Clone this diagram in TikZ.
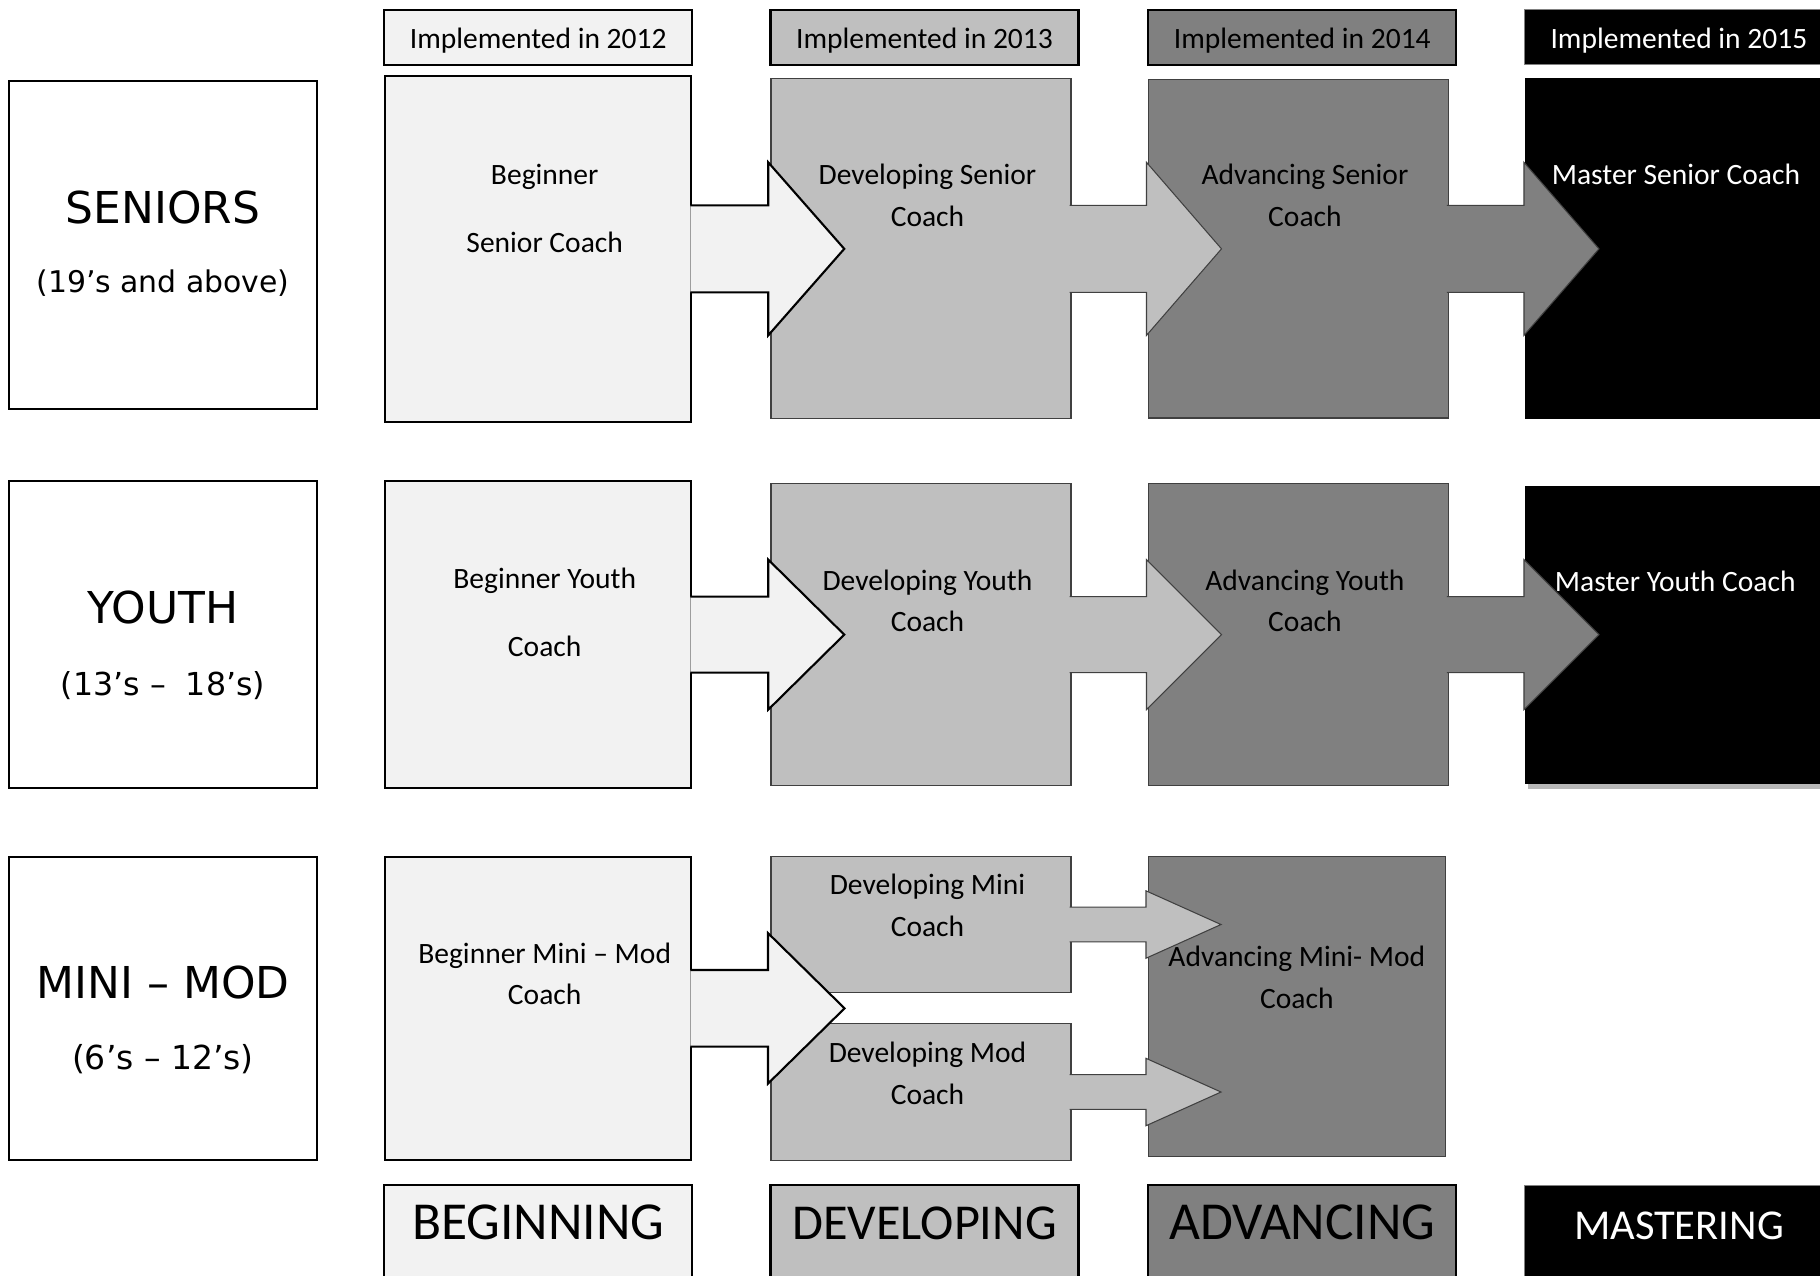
\documentclass[tikz,border=0pt]{standalone}
\usepackage{fontspec}
\setmainfont{Carlito}
\newfontfamily\grpfont{DejaVu Sans}
\usetikzlibrary{positioning,calc,shadows}
\definecolor{begfill}{HTML}{F2F2F2}
\definecolor{devfill}{HTML}{BFBFBF}
\definecolor{advfill}{HTML}{808080}

\begin{document}
\begin{tikzpicture}[
  grpbox/.style={draw, line width=0.6pt, fill=white, minimum width=3.08cm},
  begbox/.style={draw, line width=0.6pt, fill=begfill, minimum width=3.06cm},
  devbox/.style={draw=black!75, line width=0.3pt, fill=devfill, minimum width=3.0cm},
  advbox/.style={draw=black!75, line width=0.3pt, fill=advfill, minimum width=3.0cm},
  mstbox/.style={fill=black, minimum width=3.1cm},
  headbox/.style={draw, line width=0.6pt, minimum width=3.08cm, inner sep=0pt, text height=0.39cm, text depth=0.16cm, font=\fontsize{8.4}{11.87}\selectfont},
  footbox/.style={draw, line width=0.6pt, minimum width=3.08cm, inner sep=0pt, text height=0.54cm, text depth=0.63cm},
  lbl/.style={align=center, inner sep=0pt, xshift=0.065cm, font=\fontsize{8.4}{11.87}\selectfont},
  grpname/.style={inner sep=0pt, font=\grpfont\fontsize{12.5}{15}\selectfont},
  grpage/.style={inner sep=0pt, font=\grpfont\fontsize{8.6}{11}\selectfont},
  begarrow/.style={draw, line width=0.6pt, fill=begfill},
  devarrow/.style={draw=black!75, line width=0.3pt, fill=devfill},
  advarrow/.style={draw=black!75, line width=0.3pt, fill=advfill}
]

  \path[use as bounding box, clip] (0,0) rectangle (18.2,-12.76);
  \fill[white] (0,0) rectangle (18.2,-12.76);

  % Age groups
  \node[grpbox, minimum height=3.28cm] (SEN) at (1.63,-2.45) {};
  \node[grpbox, minimum height=3.073cm] (YOU) at (1.63,-6.3465) {};
  \node[grpbox, minimum height=3.033cm] (MIN) at (1.63,-10.0835) {};

  % Senior row
  \node[begbox, minimum height=3.457cm, right=0.661cm of SEN, yshift=-0.0385cm] (BS) {};
  \node[devbox, minimum height=3.40cm, right=0.782cm of BS] (DS) {};
  \node[advbox, minimum height=3.383cm, right=0.764cm of DS] (AS) {};
  \node[mstbox, minimum height=3.41cm, right=0.753cm of AS] (MS) {};

  % Youth row
  \node[begbox, minimum height=3.073cm, right=0.661cm of YOU] (BY) {};
  \node[devbox, minimum height=3.018cm, right=0.782cm of BY] (DY) {};
  \node[advbox, minimum height=3.016cm, right=0.764cm of DY] (AY) {};
  \node[mstbox, minimum height=2.983cm, right=0.756cm of AY,
        drop shadow={opacity=1, fill=black!28, shadow xshift=0.03cm, shadow yshift=-0.05cm}] (MY) {};

  % Mini - Mod row
  \node[begbox, minimum height=3.033cm, right=0.661cm of MIN] (BM) {};
  \node[devbox, minimum height=1.367cm, right=0.782cm of BM.north east, anchor=north west] (DMi) {};
  \node[devbox, minimum height=1.37cm, right=0.782cm of BM.south east, anchor=south west] (DMo) {};
  \node[advbox, minimum width=2.969cm, minimum height=3.0cm, right=0.764cm of DMi.north east, anchor=north west] (AM) {};

  % Arrows
  \filldraw[begarrow] ($(BS.east)+(-0.02,0.435)$) -- ++(0.78,0) -- ++(0,0.43) -- ($(BS.east)+(1.52,0)$) -- ++(-0.76,-0.865) -- ++(0,0.43) -- ($(BS.east)+(-0.02,-0.435)$);
  \filldraw[devarrow] ($(DS.east)+(-0.02,0.435)$) -- ++(0.77,0) -- ++(0,0.43) -- ($(DS.east)+(1.50,0)$) -- ++(-0.75,-0.865) -- ++(0,0.43) -- ($(DS.east)+(-0.02,-0.435)$);
  \filldraw[advarrow] ($(AS.east)+(-0.02,0.435)$) -- ++(0.77,0) -- ++(0,0.43) -- ($(AS.east)+(1.50,0)$) -- ++(-0.75,-0.865) -- ++(0,0.43) -- ($(AS.east)+(-0.02,-0.435)$);

  \filldraw[begarrow] ($(BY.east)+(-0.02,0.38)$) -- ++(0.78,0) -- ++(0,0.37) -- ($(BY.east)+(1.52,0)$) -- ++(-0.76,-0.75) -- ++(0,0.37) -- ($(BY.east)+(-0.02,-0.38)$);
  \filldraw[devarrow] ($(DY.east)+(-0.02,0.38)$) -- ++(0.77,0) -- ++(0,0.37) -- ($(DY.east)+(1.50,0)$) -- ++(-0.75,-0.75) -- ++(0,0.37) -- ($(DY.east)+(-0.02,-0.38)$);
  \filldraw[advarrow] ($(AY.east)+(-0.02,0.38)$) -- ++(0.77,0) -- ++(0,0.37) -- ($(AY.east)+(1.50,0)$) -- ++(-0.75,-0.75) -- ++(0,0.37) -- ($(AY.east)+(-0.02,-0.38)$);

  \filldraw[begarrow] ($(BM.east)+(-0.02,0.383)$) -- ++(0.777,0) -- ++(0,0.37) -- ($(BM.east)+(1.523,0)$) -- ++(-0.766,-0.753) -- ++(0,0.37) -- ($(BM.east)+(-0.02,-0.383)$);
  \filldraw[devarrow] ($(DMi.east)+(-0.02,0.174)$) -- ++(0.765,0) -- ++(0,0.163) -- ($(DMi.east)+(1.495,0)$) -- ++(-0.75,-0.337) -- ++(0,0.163) -- ($(DMi.east)+(-0.02,-0.174)$);
  \filldraw[devarrow] ($(DMo.east)+(-0.02,0.174)$) -- ++(0.765,0) -- ++(0,0.163) -- ($(DMo.east)+(1.495,0)$) -- ++(-0.75,-0.337) -- ++(0,0.163) -- ($(DMo.east)+(-0.02,-0.174)$);

  % Group labels
  \node[grpname, below=1.10cm of SEN.north] (SENname) {SENIORS};
  \node[grpage, font=\grpfont\fontsize{8.5}{11}\selectfont, below=1.89cm of SEN.north] (SENage) {(19’s and above)};
  \node[grpname, below=1.10cm of YOU.north] (YOUname) {YOUTH};
  \node[grpage, font=\grpfont\fontsize{9}{11}\selectfont, below=1.907cm of YOU.north] (YOUage) {(13’s –~ 18’s)};
  \node[grpname, below=1.10cm of MIN.north] (MINname) {MINI – MOD};
  \node[grpage, font=\grpfont\fontsize{9.4}{11}\selectfont, below=1.88cm of MIN.north] (MINage) {(6’s – 12’s)};

  % Stage labels
  \node[lbl, below=0.89cm of BS.north] (BSt) {Beginner\\[0.263cm]Senior Coach};
  \node[lbl, below=0.85cm of DS.north] (DSt) {Developing Senior\\Coach};
  \node[lbl, below=0.84cm of AS.north] (ASt) {Advancing Senior\\Coach};
  \node[lbl, text=white, xshift=-0.105cm, below=0.857cm of MS.north] (MSt) {Master Senior Coach};
  \node[lbl, below=0.87cm of BY.north] (BYt) {Beginner Youth\\[0.263cm]Coach};
  \node[lbl, below=0.856cm of DY.north] (DYt) {Developing Youth\\Coach};
  \node[lbl, below=0.856cm of AY.north] (AYt) {Advancing Youth\\Coach};
  \node[lbl, text=white, xshift=-0.115cm, below=0.856cm of MY.north] (MYt) {Master Youth Coach};
  \node[lbl, below=0.863cm of BM.north] (BMt) {Beginner Mini – Mod\\Coach};
  \node[lbl, below=0.18cm of DMi.north] (DMit) {Developing Mini\\Coach};
  \node[lbl, below=0.184cm of DMo.north] (DMot) {Developing Mod\\Coach};
  \node[lbl, xshift=-0.065cm, below=0.9cm of AM.north] (AMt) {Advancing Mini- Mod\\Coach};

  % Headers
  \node[headbox, fill=begfill, above=0.09cm of BS] (H12) {Implemented in 2012};
  \node[headbox, fill=devfill, right=0.762cm of H12] (H13) {Implemented in 2013};
  \node[headbox, fill=advfill, right=0.677cm of H13] (H14) {Implemented in 2014};
  \node[headbox, fill=black, draw=black!50, line width=0.3pt, text=white, right=0.67cm of H14] (H15) {Implemented in 2015};

  % Footers
  \node[footbox, fill=begfill, font=\fontsize{15.2}{18}\selectfont, below=0.23cm of BM] (FB) {BEGINNING};
  \node[footbox, fill=devfill, font=\fontsize{14.3}{17}\selectfont, right=0.762cm of FB] (FD) {DEVELOPING};
  \node[footbox, fill=advfill, font=\fontsize{15.2}{18}\selectfont, right=0.677cm of FD] (FA) {ADVANCING};
  \node[footbox, fill=black, draw=black!50, line width=0.3pt, text=white, font=\fontsize{12.1}{14}\selectfont, right=0.67cm of FA] (FM) {MASTERING};

\end{tikzpicture}
\end{document}
